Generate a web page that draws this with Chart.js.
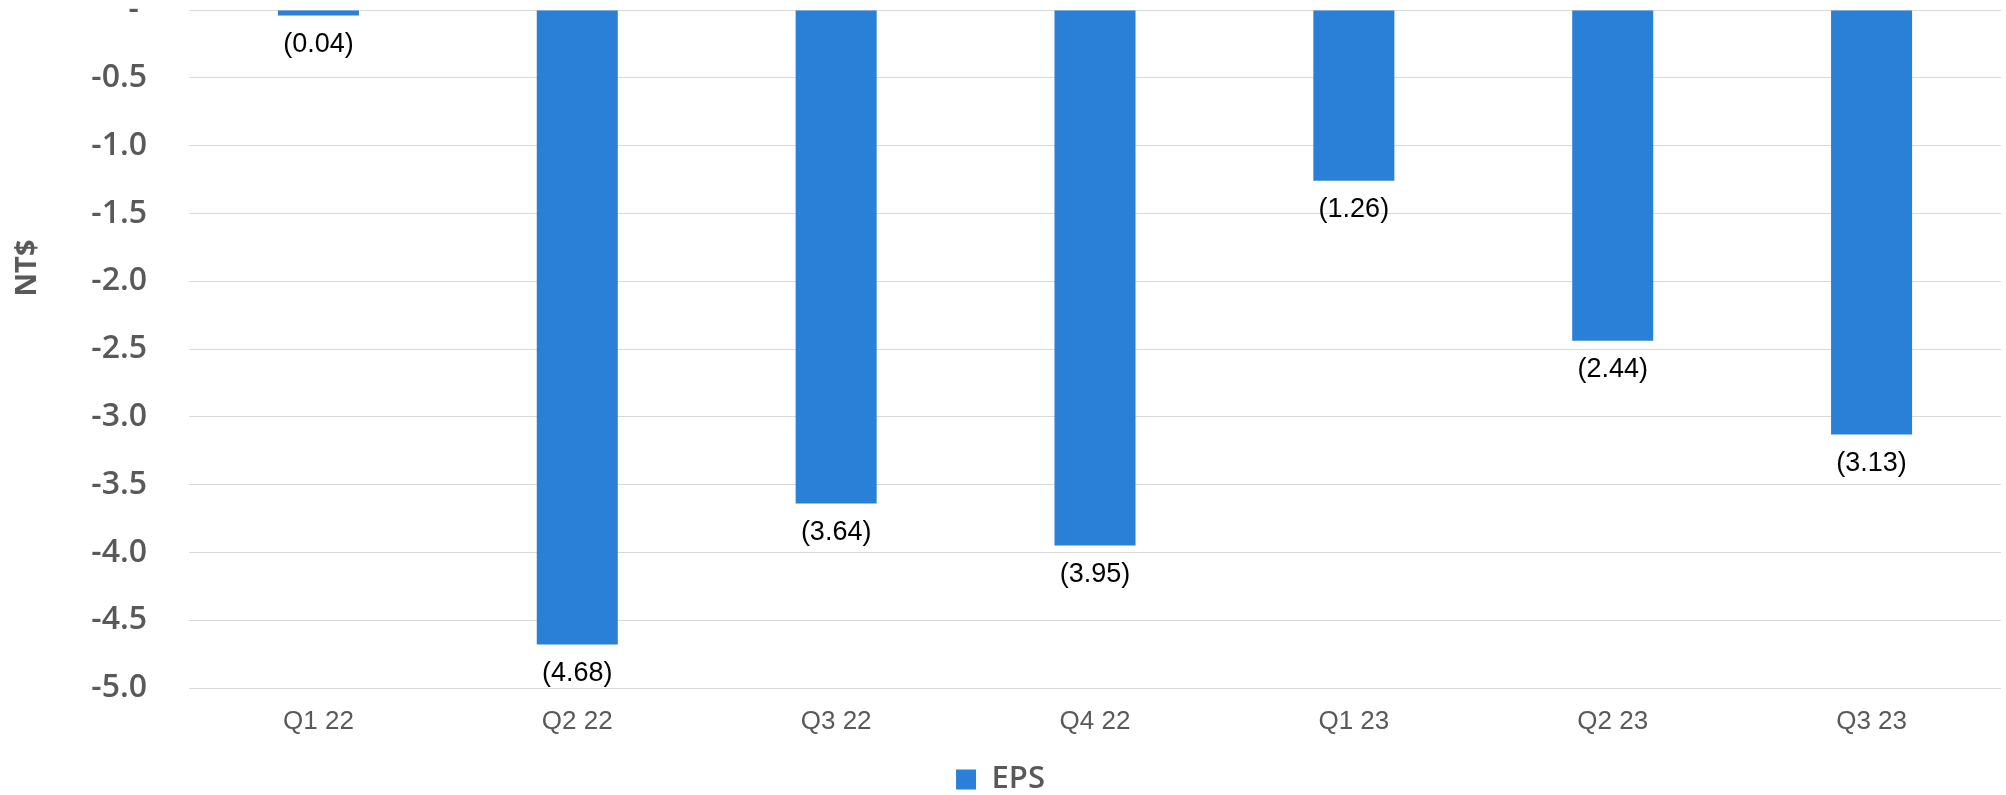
<!DOCTYPE html>
<html>
<head>
<meta charset="utf-8">
<script src="https://cdn.jsdelivr.net/npm/chart.js@4.4.1/dist/chart.umd.min.js"></script>
<style>
  html, body { margin: 0; padding: 0; background: #ffffff; }
  #wrap { width: 2006px; height: 795px; position: relative; }
</style>
</head>
<body>
<div id="wrap"><canvas id="c"></canvas></div>
<script>
const categories = ['Q1 22', 'Q2 22', 'Q3 22', 'Q4 22', 'Q1 23', 'Q2 23', 'Q3 23'];
const epsValues = [-0.04, -4.68, -3.64, -3.95, -1.26, -2.44, -3.13];
const seriesName = 'EPS';
const yAxisTitle = 'NT$';
const yMin = -5.0;
const yMax = 0;
const yStep = 0.5;

const barColor = '#2A7FD6';
const gray = '#595959';

const dataLabelPlugin = {
  id: 'dataLabels',
  afterDatasetsDraw(chart) {
    const ctx = chart.ctx;
    const meta = chart.getDatasetMeta(0);
    ctx.save();
    ctx.font = '27px "Liberation Sans", Arial, sans-serif';
    ctx.fillStyle = '#000000';
    ctx.textAlign = 'center';
    ctx.textBaseline = 'middle';
    meta.data.forEach((bar, i) => {
      const v = chart.data.datasets[0].data[i];
      const txt = v < 0 ? '(' + Math.abs(v).toFixed(2) + ')' : v.toFixed(2);
      ctx.fillText(txt, bar.x, bar.y + 29);
    });
    ctx.restore();
  }
};

const axisTitlePlugin = {
  id: 'axisTitle',
  afterDraw(chart) {
    const ctx = chart.ctx;
    ctx.save();
    ctx.translate(28, 268);
    ctx.rotate(-Math.PI / 2);
    ctx.font = 'bold 29px "Open Sans", sans-serif';
    ctx.fillStyle = gray;
    ctx.textAlign = 'center';
    ctx.textBaseline = 'middle';
    ctx.fillText(yAxisTitle, 0, 0);
    ctx.restore();
  }
};

new Chart(document.getElementById('c'), {
  type: 'bar',
  data: {
    labels: categories,
    datasets: [{
      label: seriesName,
      data: epsValues,
      backgroundColor: barColor,
      borderWidth: 0,
      barPercentage: 0.313,
      categoryPercentage: 1.0
    }]
  },
  options: {
    responsive: true,
    maintainAspectRatio: false,
    animation: false,
    devicePixelRatio: 1,
    layout: { padding: { top: 10, right: 5, left: 0, bottom: -10 } },
    plugins: {
      tooltip: { enabled: false },
      legend: {
        display: true,
        position: 'bottom',
        labels: {
          boxWidth: 20,
          boxHeight: 20,
          padding: 6,
          color: gray,
          font: { family: '"Open Sans", sans-serif', size: 31, weight: '600' }
        }
      }
    },
    scales: {
      x: {
        grid: { display: false, drawTicks: false },
        border: { display: false },
        ticks: {
          color: gray,
          padding: 18,
          font: { family: '"Liberation Sans", Arial, sans-serif', size: 26 }
        },
        afterFit(scale) { scale.height = 70; }
      },
      y: {
        min: yMin,
        max: yMax,
        grid: { color: '#D9D9D9', lineWidth: 1, drawTicks: false },
        border: { display: false },
        ticks: {
          stepSize: yStep,
          color: gray,
          padding: 42,
          font: { family: '"Open Sans", sans-serif', size: 32, weight: '600' },
          callback: (v) => (Math.abs(v) < 1e-9 ? '- ' : Number(v).toFixed(1))
        },
        afterFit(scale) {
          scale.width = 189;
          scale.paddingTop = 0;
          scale.paddingBottom = 0;
        }
      }
    }
  },
  plugins: [dataLabelPlugin, axisTitlePlugin]
});
</script>
</body>
</html>
